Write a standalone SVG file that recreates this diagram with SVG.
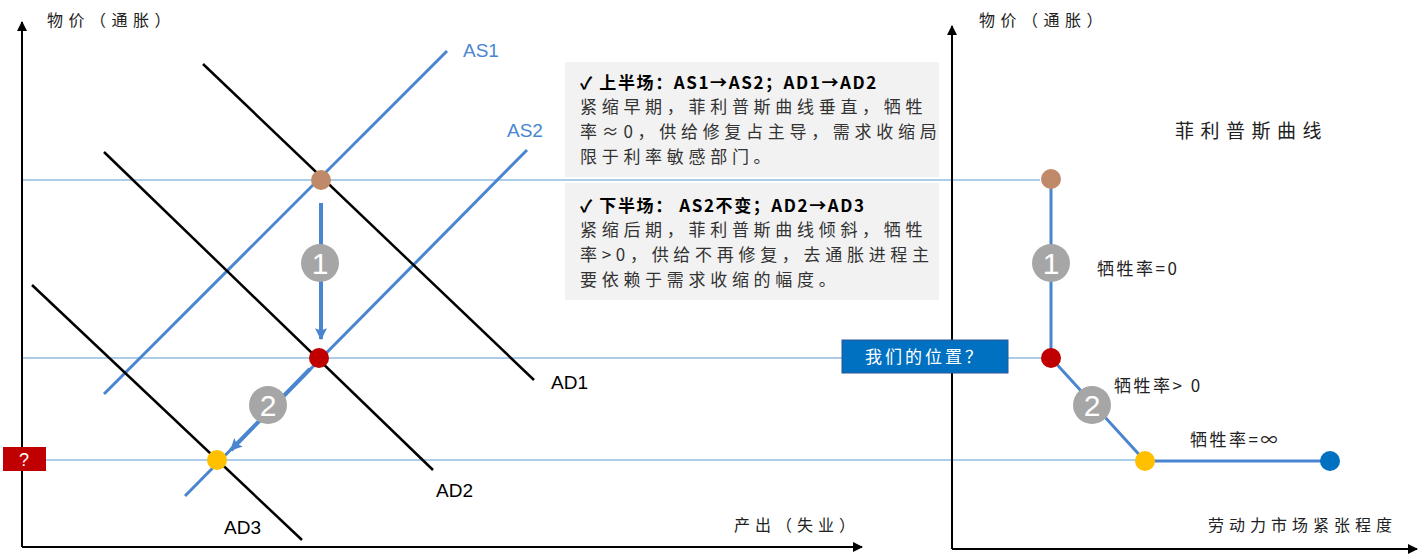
<svg xmlns="http://www.w3.org/2000/svg" width="1419" height="556" viewBox="0 0 1419 556">
<defs>
<marker id="ax" viewBox="0 0 10 10" refX="9" refY="5" markerWidth="10" markerHeight="10" markerUnits="userSpaceOnUse" orient="auto"><path d="M0,0 L10,5 L0,10 z" fill="#000"/></marker>
<marker id="bl" viewBox="0 0 10 10" refX="9" refY="5" markerWidth="12" markerHeight="12" markerUnits="userSpaceOnUse" orient="auto"><path d="M0,0 L10,5 L0,10 L2,5 z" fill="#4a86d0"/></marker>
</defs>
<style>
.cn{font-family:"Noto Sans CJK SC","Liberation Sans",sans-serif;fill:#222}
.lat{font-family:"Liberation Sans",Roboto,sans-serif}
.axis{stroke:#000;stroke-width:2;fill:none}
.guide{stroke:#5b9bd5;stroke-width:1.2;fill:none}
.as{stroke:#4a86d0;stroke-width:3;fill:none}
.ad{stroke:#000;stroke-width:2.5;fill:none}
.num{fill:#a6a6a6}
.numt{font-family:"Liberation Sans",sans-serif;font-size:30px;fill:#fff;text-anchor:middle}
.box{fill:#f2f2f2}
.bt{font-family:"Noto Sans CJK SC","Liberation Sans",sans-serif;font-size:17px;fill:#333;letter-spacing:4.7px}
.bh{font-family:"Noto Sans CJK SC","Liberation Sans",sans-serif;font-size:17px;fill:#000;font-weight:bold;letter-spacing:1.6px}
</style>
<g id="info-box">
<rect class="box" x="565" y="62" width="374" height="115"/>
<rect class="box" x="565" y="183" width="374" height="117"/>
<text class="bh" x="580" y="89">✓  上半场：AS1→AS2；AD1→AD2</text>
<text class="bt" x="580" y="113">紧缩早期，菲利普斯曲线垂直，牺牲</text>
<text class="bt" x="580" y="138">率≈0，供给修复占主导，需求收缩局</text>
<text class="bt" x="580" y="163">限于利率敏感部门。</text>
<text class="bh" x="580" y="212">✓  下半场： AS2不变；AD2→AD3</text>
<text class="bt" x="580" y="236">紧缩后期，菲利普斯曲线倾斜，牺牲</text>
<text class="bt" x="580" y="261">率&gt;0，供给不再修复，去通胀进程主</text>
<text class="bt" x="580" y="286">要依赖于需求收缩的幅度。</text>
</g>
<g id="connectors">
<line class="guide" x1="22" y1="180" x2="1040" y2="180"/>
<line class="guide" x1="22" y1="358" x2="1045" y2="358"/>
<line class="guide" x1="22" y1="460" x2="1140" y2="460"/>
<line class="axis" x1="22" y1="547" x2="22" y2="22" marker-end="url(#ax)"/>
<line class="axis" x1="22" y1="547" x2="862" y2="547" marker-end="url(#ax)"/>
<line class="axis" x1="952" y1="549" x2="952" y2="26" marker-end="url(#ax)"/>
<line class="axis" x1="952" y1="549" x2="1417" y2="549" marker-end="url(#ax)"/>
<line class="as" x1="104" y1="394" x2="447" y2="51"/>
<line class="as" x1="185" y1="496" x2="527" y2="150"/>
<line class="ad" x1="203" y1="64" x2="534" y2="380"/>
<line class="ad" x1="104" y1="152" x2="433" y2="470"/>
<line class="ad" x1="32" y1="285" x2="302" y2="540"/>
<line stroke="#4a86d0" stroke-width="4" x1="321" y1="203" x2="321" y2="339" marker-end="url(#bl)"/>
<line stroke="#4a86d0" stroke-width="4" x1="310" y1="369" x2="231" y2="450" marker-end="url(#bl)"/>
<polyline fill="none" stroke="#4a86d0" stroke-width="3" points="1051,179 1051,358 1145,461 1330,461"/>
</g>
<g id="labels">
<text class="lat" x="463" y="57" font-size="19" fill="#4a86d0">AS1</text>
<text class="lat" x="507" y="137" font-size="19" fill="#4a86d0">AS2</text>
<text class="lat" x="551" y="389" font-size="19" fill="#000">AD1</text>
<text class="lat" x="436" y="497" font-size="19" fill="#000">AD2</text>
<text class="lat" x="224" y="534" font-size="19" fill="#000">AD3</text>
<text class="cn" x="47" y="26" font-size="16" letter-spacing="5.5">物价（通胀）</text>
<text class="cn" x="979" y="26" font-size="16" letter-spacing="5.5">物价（通胀）</text>
<text class="cn" x="734" y="531" font-size="16" letter-spacing="5">产出（失业）</text>
<text class="cn" x="1208" y="531" font-size="16" letter-spacing="5">劳动力市场紧张程度</text>
<text class="cn" x="1175" y="138" font-size="19" letter-spacing="6.5">菲利普斯曲线</text>
<text class="cn" x="1097" y="275" font-size="17" letter-spacing="2.5">牺牲率=0</text>
<text class="cn" x="1114" y="392" font-size="17" letter-spacing="2.5">牺牲率&gt; 0</text>
<text class="cn" x="1190" y="446" font-size="17" letter-spacing="2.5">牺牲率=∞</text>
</g>
<g id="dot-brown-left"><circle cx="321" cy="180" r="10" fill="#c0896a"/></g>
<g id="dot-red-left"><circle cx="319" cy="358" r="10" fill="#c00000"/></g>
<g id="dot-yellow-left"><circle cx="217" cy="460" r="10" fill="#ffc000"/></g>
<g id="dot-brown-right"><circle cx="1051" cy="179" r="10" fill="#c0896a"/></g>
<g id="dot-red-right"><circle cx="1051" cy="358" r="10" fill="#c00000"/></g>
<g id="dot-yellow-right"><circle cx="1145" cy="461" r="10" fill="#ffc000"/></g>
<g id="dot-blue-right"><circle cx="1330" cy="461" r="10" fill="#0070c0"/></g>
<g id="step1-left"><circle class="num" cx="320" cy="263" r="19"/><text class="numt" x="320" y="274">1</text></g>
<g id="step2-left"><circle class="num" cx="268" cy="405" r="19"/><text class="numt" x="268" y="416">2</text></g>
<g id="step1-right"><circle class="num" cx="1051" cy="263" r="19"/><text class="numt" x="1051" y="274">1</text></g>
<g id="step2-right"><circle class="num" cx="1092" cy="405" r="19"/><text class="numt" x="1092" y="416">2</text></g>
<g id="our-position">
<rect x="842" y="340" width="166" height="33" fill="#0070c0" stroke="#2f5597" stroke-width="1"/>
<text x="925" y="363" font-size="17" fill="#fff" text-anchor="middle" letter-spacing="3" font-family="Noto Sans CJK SC, Liberation Sans, sans-serif">我们的位置？</text>
</g>
<g id="question">
<rect x="3" y="447" width="43" height="24" fill="#c00000"/>
<text x="24" y="466" font-size="18" fill="#fff" text-anchor="middle" font-family="Liberation Sans, sans-serif">?</text>
</g>
</svg>
